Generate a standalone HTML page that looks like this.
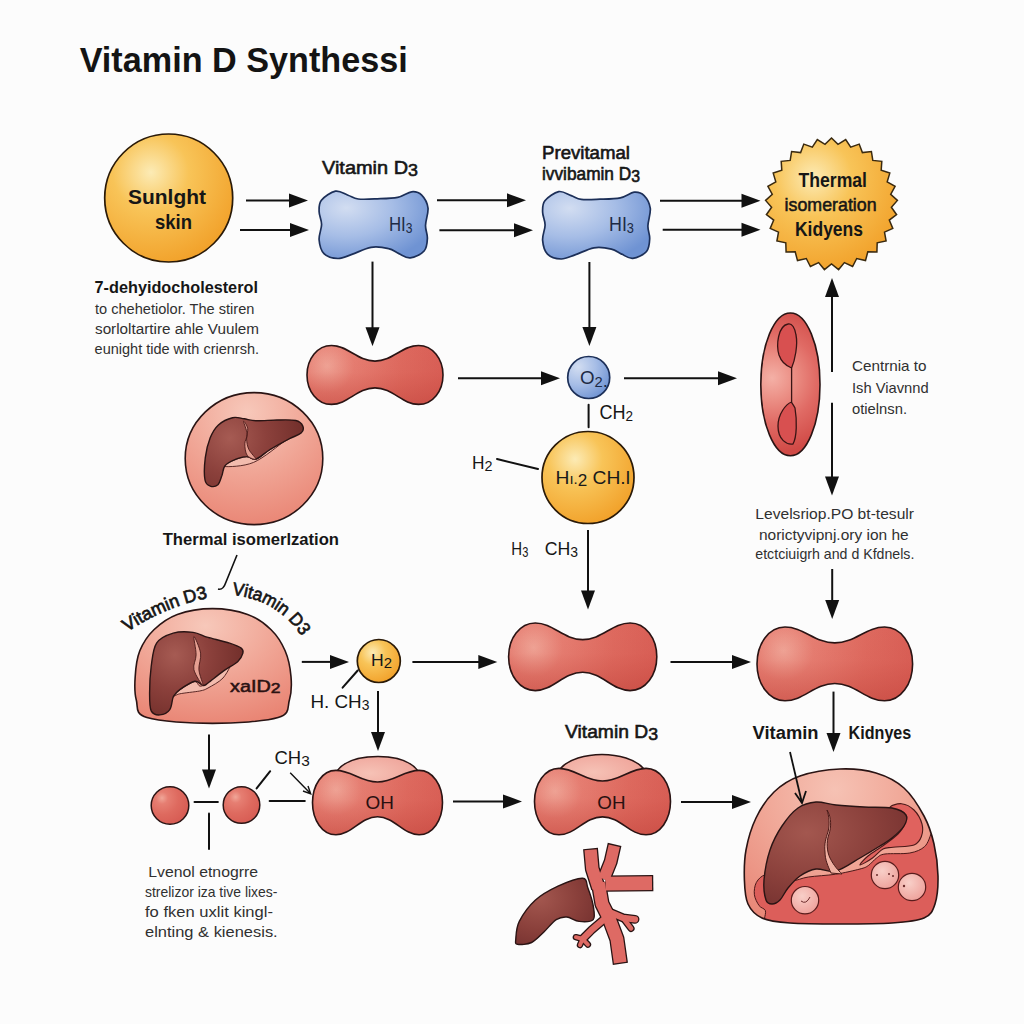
<!DOCTYPE html><html><head><meta charset="utf-8"><style>html,body{margin:0;padding:0;background:#fcfcfc;}svg{display:block;}text{font-family:"Liberation Sans",sans-serif;}</style></head><body>
<svg width="1024" height="1024" viewBox="0 0 1024 1024">
<defs>
<radialGradient id="gOr" cx="0.36" cy="0.30" r="0.78"><stop offset="0" stop-color="#fcebb5"/><stop offset="0.38" stop-color="#f8c458"/><stop offset="1" stop-color="#f19e26"/></radialGradient>
<radialGradient id="gBl" cx="0.25" cy="0.25" r="0.85"><stop offset="0" stop-color="#d2ddf1"/><stop offset="0.5" stop-color="#a6bde6"/><stop offset="1" stop-color="#6f93d3"/></radialGradient>
<radialGradient id="gRd" cx="0.2" cy="0.3" r="0.9"><stop offset="0" stop-color="#f2aca4"/><stop offset="0.35" stop-color="#e8807a"/><stop offset="1" stop-color="#d95a58"/></radialGradient>
<radialGradient id="gPk" cx="0.45" cy="0.15" r="0.95"><stop offset="0" stop-color="#f7c8ba"/><stop offset="0.5" stop-color="#f0a494"/><stop offset="1" stop-color="#e8806f"/></radialGradient>
<radialGradient id="gLv" cx="0.3" cy="0.3" r="0.8"><stop offset="0" stop-color="#a3574f"/><stop offset="0.6" stop-color="#8a403b"/><stop offset="1" stop-color="#763230"/></radialGradient>
<radialGradient id="gBack" cx="0.4" cy="0.5" r="0.7"><stop offset="0" stop-color="#f6c2b6"/><stop offset="1" stop-color="#eea096"/></radialGradient>
<radialGradient id="gSm" cx="0.4" cy="0.35" r="0.7"><stop offset="0" stop-color="#f8cfc8"/><stop offset="1" stop-color="#eea09a"/></radialGradient>
<linearGradient id="gVs" x1="0" y1="0" x2="1" y2="0"><stop offset="0" stop-color="#c94c4a"/><stop offset="0.5" stop-color="#e67a72"/><stop offset="1" stop-color="#c94c4a"/></linearGradient>
<linearGradient id="gShade" x1="0" y1="0" x2="0" y2="1"><stop offset="0" stop-color="#c03a30" stop-opacity="0"/><stop offset="0.45" stop-color="#c03a30" stop-opacity="0.05"/><stop offset="1" stop-color="#b83830" stop-opacity="0.38"/></linearGradient>
</defs>
<text x="79.7" y="71.9" font-size="35" font-weight="bold" fill="#141414" textLength="328" lengthAdjust="spacingAndGlyphs" >Vitamin D Synthessi</text>
<circle cx="168.7" cy="198" r="64" fill="url(#gOr)" stroke="#2a1a08" stroke-width="1.7"/>
<text x="128" y="203.6" font-size="21" font-weight="bold" fill="#161616" textLength="78" lengthAdjust="spacingAndGlyphs" >Sunlght</text>
<text x="155" y="228.6" font-size="21" font-weight="bold" fill="#161616" textLength="37" lengthAdjust="spacingAndGlyphs" >skin</text>
<line x1="246" y1="200.5" x2="291.0" y2="200.5" stroke="#111" stroke-width="2.0"/>
<polygon points="308,200.5 289.0,207.5 289.0,193.5" fill="#111"/>
<line x1="240" y1="230" x2="292.0" y2="230.0" stroke="#111" stroke-width="2.0"/>
<polygon points="309,230 290.0,237.0 290.0,223.0" fill="#111"/>
<path d="M335.4,191.2 C331.0,192.1 324.1,196.9 321.4,200.3 C318.7,203.7 319.1,207.5 319.1,211.5 C319.1,215.5 321.6,219.7 321.6,224.4 C321.6,229.1 318.7,234.8 319.1,239.7 C319.5,244.5 320.9,250.5 324.0,253.6 C327.2,256.8 333.3,258.4 337.9,258.5 C342.6,258.6 346.3,256.3 351.9,254.4 C357.4,252.6 364.9,248.3 371.0,247.3 C377.1,246.3 384.0,247.5 388.6,248.6 C393.3,249.6 395.3,252.1 398.9,253.6 C402.5,255.2 406.1,258.3 410.3,257.8 C414.5,257.4 421.3,254.3 424.1,251.0 C427.0,247.8 427.2,242.6 427.4,238.3 C427.6,234.1 425.5,230.5 425.5,225.4 C425.6,220.4 428.6,213.0 428.0,208.0 C427.3,203.0 424.4,197.9 421.7,195.2 C419.0,192.5 415.7,191.4 411.6,191.8 C407.6,192.2 403.4,196.2 397.6,197.4 C391.9,198.6 383.8,198.6 377.3,198.8 C370.7,199.1 363.1,199.6 358.2,199.0 C353.3,198.4 351.8,196.5 348.0,195.2 C344.2,193.9 339.9,190.3 335.4,191.2 Z" fill="url(#gBl)" stroke="#1c2f58" stroke-width="1.7"/>
<text x="322" y="174" font-size="19" font-weight="normal" fill="#161616" textLength="96" lengthAdjust="spacingAndGlyphs"  stroke="#161616" stroke-width="0.6">Vitamin D<tspan font-size="17" dy="2">3</tspan></text>
<text x="389" y="231" font-size="19.5" font-weight="normal" fill="#1d2a44" textLength="23.5" lengthAdjust="spacingAndGlyphs" >HI<tspan font-size="14" dy="2">3</tspan></text>
<line x1="437" y1="200.3" x2="509.0" y2="200.3" stroke="#111" stroke-width="2.0"/>
<polygon points="526,200.3 507.0,207.3 507.0,193.3" fill="#111"/>
<line x1="439.4" y1="230.3" x2="516.0" y2="230.3" stroke="#111" stroke-width="2.0"/>
<polygon points="533,230.3 514.0,237.3 514.0,223.3" fill="#111"/>
<path d="M558.7,191.6 C554.4,192.5 547.6,197.3 544.9,200.7 C542.2,204.1 542.6,207.9 542.6,212.0 C542.6,216.0 545.1,220.2 545.1,224.9 C545.1,229.6 542.2,235.3 542.6,240.1 C543.0,245.0 544.4,251.0 547.5,254.1 C550.6,257.3 556.7,258.9 561.2,259.0 C565.8,259.1 569.5,256.8 575.0,254.9 C580.4,253.1 587.9,248.8 593.9,247.8 C600.0,246.8 606.8,248.0 611.4,249.1 C616.0,250.1 618.0,252.6 621.6,254.1 C625.1,255.7 628.7,258.8 632.8,258.3 C637.0,257.9 643.7,254.8 646.5,251.5 C649.3,248.2 649.5,243.1 649.7,238.8 C650.0,234.5 647.8,230.9 647.9,225.9 C648.0,220.8 650.9,213.5 650.3,208.4 C649.6,203.4 646.8,198.3 644.1,195.6 C641.4,192.9 638.1,191.8 634.1,192.2 C630.2,192.6 625.9,196.7 620.3,197.8 C614.6,199.0 606.6,199.0 600.1,199.2 C593.6,199.5 586.1,200.1 581.3,199.4 C576.5,198.8 575.0,196.9 571.2,195.6 C567.4,194.3 563.1,190.7 558.7,191.6 Z" fill="url(#gBl)" stroke="#1c2f58" stroke-width="1.7"/>
<text x="542" y="158.6" font-size="17.5" font-weight="normal" fill="#161616" textLength="88" lengthAdjust="spacingAndGlyphs"  stroke="#161616" stroke-width="0.6">Previtamal</text>
<text x="542" y="180.4" font-size="17.5" font-weight="normal" fill="#161616" textLength="98" lengthAdjust="spacingAndGlyphs"  stroke="#161616" stroke-width="0.6">ivvibamin D<tspan font-size="16" dy="2">3</tspan></text>
<text x="609" y="231" font-size="19.5" font-weight="normal" fill="#1d2a44" textLength="25" lengthAdjust="spacingAndGlyphs" >HI<tspan font-size="14" dy="2">3</tspan></text>
<line x1="660" y1="200.8" x2="743.5" y2="200.8" stroke="#111" stroke-width="2.0"/>
<polygon points="760.5,200.8 741.5,207.8 741.5,193.8" fill="#111"/>
<line x1="662.7" y1="229.7" x2="743.5" y2="229.7" stroke="#111" stroke-width="2.0"/>
<polygon points="760.5,229.7 741.5,236.7 741.5,222.7" fill="#111"/>
<polygon points="831.5,138.0 838.0,144.4 845.7,139.5 850.7,147.1 859.2,144.1 862.4,152.6 871.4,151.5 872.8,160.4 881.8,161.3 881.2,170.3 889.8,173.1 887.2,181.8 895.1,186.3 890.7,194.3 897.4,200.4 891.4,207.2 896.6,214.7 889.3,220.1 892.8,228.4 884.5,232.1 886.1,241.0 877.2,242.8 876.9,251.9 867.8,251.8 865.5,260.6 856.7,258.5 852.6,266.5 844.4,262.6 838.6,269.6 831.5,264.0 824.4,269.6 818.6,262.6 810.4,266.5 806.3,258.5 797.5,260.6 795.2,251.8 786.1,251.9 785.8,242.8 776.9,241.0 778.5,232.1 770.2,228.4 773.7,220.1 766.4,214.7 771.6,207.2 765.6,200.4 772.3,194.3 767.9,186.3 775.8,181.8 773.2,173.1 781.8,170.3 781.2,161.3 790.2,160.4 791.6,151.5 800.6,152.6 803.8,144.1 812.3,147.1 817.3,139.5 825.0,144.4" fill="url(#gOr)" stroke="#3a2a10" stroke-width="1.5" stroke-linejoin="miter"/>
<text x="798.5" y="187" font-size="20" font-weight="bold" fill="#161616" textLength="68.5" lengthAdjust="spacingAndGlyphs" >Thermal</text>
<text x="784.6" y="211" font-size="19" font-weight="normal" fill="#161616" textLength="92" lengthAdjust="spacingAndGlyphs"  stroke="#161616" stroke-width="0.55">isomeration</text>
<text x="795" y="235.5" font-size="20" font-weight="bold" fill="#161616" textLength="68" lengthAdjust="spacingAndGlyphs" >Kidyens</text>
<text x="94.6" y="292.6" font-size="17" font-weight="bold" fill="#161616" textLength="163.3" lengthAdjust="spacingAndGlyphs" >7-dehyidocholesterol</text>
<text x="95" y="314" font-size="15.5" font-weight="normal" fill="#303030" textLength="159.4" lengthAdjust="spacingAndGlyphs" >to chehetiolor. The stiren</text>
<text x="95" y="334.4" font-size="15.5" font-weight="normal" fill="#303030" textLength="164" lengthAdjust="spacingAndGlyphs" >sorloltartire ahle Vuulem</text>
<text x="94.6" y="354.2" font-size="15.5" font-weight="normal" fill="#303030" textLength="164.4" lengthAdjust="spacingAndGlyphs" >eunight tide with crienrsh.</text>
<line x1="372.5" y1="261.6" x2="372.5" y2="329.3" stroke="#111" stroke-width="2.0"/>
<polygon points="372.5,346.3 365.5,327.3 379.5,327.3" fill="#111"/>
<radialGradient id="r1" gradientUnits="userSpaceOnUse" cx="327" cy="366" r="135" fx="327" fy="366"><stop offset="0" stop-color="#f0a698"/><stop offset="0.2" stop-color="#e67e72"/><stop offset="0.55" stop-color="#de6a5f"/><stop offset="1" stop-color="#d65a52"/></radialGradient>
<path d="M375.0,361.1 C392.7,361.1 402.2,345.5 418.5,345.5 C432.8,345.5 443.0,359.0 443.0,374.9 C443.0,390.9 432.8,404.4 418.5,404.4 C402.2,404.4 392.7,387.9 375.0,387.9 C357.3,387.9 347.8,404.4 331.5,404.4 C317.2,404.4 307.0,390.9 307.0,374.9 C307.0,359.0 317.2,345.5 331.5,345.5 C347.8,345.5 357.3,361.1 375.0,361.1 Z" fill="url(#r1)"/>
<path d="M375.0,361.1 C392.7,361.1 402.2,345.5 418.5,345.5 C432.8,345.5 443.0,359.0 443.0,374.9 C443.0,390.9 432.8,404.4 418.5,404.4 C402.2,404.4 392.7,387.9 375.0,387.9 C357.3,387.9 347.8,404.4 331.5,404.4 C317.2,404.4 307.0,390.9 307.0,374.9 C307.0,359.0 317.2,345.5 331.5,345.5 C347.8,345.5 357.3,361.1 375.0,361.1 Z" fill="url(#gShade)" stroke="#2a1414" stroke-width="1.6"/>
<line x1="458" y1="378.3" x2="543.0" y2="378.3" stroke="#111" stroke-width="2.0"/>
<polygon points="560,378.3 541.0,385.3 541.0,371.3" fill="#111"/>
<circle cx="588.7" cy="377.5" r="21" fill="url(#gBl)" stroke="#1c2f58" stroke-width="1.7"/>
<text x="580" y="384" font-size="19" font-weight="normal" fill="#1d2a44" textLength="28" lengthAdjust="spacingAndGlyphs" >O<tspan font-size="15" dy="3">2</tspan>.</text>
<line x1="589.4" y1="262" x2="589.4" y2="329.0" stroke="#111" stroke-width="2.0"/>
<polygon points="589.4,346 582.4,327.0 596.4,327.0" fill="#111"/>
<line x1="624" y1="378.3" x2="720.0" y2="378.3" stroke="#111" stroke-width="2.0"/>
<polygon points="737,378.3 718.0,385.3 718.0,371.3" fill="#111"/>
<line x1="588.6" y1="404.7" x2="588.6" y2="427.3" stroke="#111" stroke-width="2" stroke-linecap="round"/>
<text x="599.4" y="419.4" font-size="20" font-weight="normal" fill="#161616" textLength="33.6" lengthAdjust="spacingAndGlyphs" >CH<tspan font-size="15" dy="2">2</tspan></text>
<radialGradient id="r8" gradientUnits="userSpaceOnUse" cx="772" cy="378" r="75" fx="772" fy="378"><stop offset="0" stop-color="#f4b0a6"/><stop offset="0.3" stop-color="#eb8e84"/><stop offset="0.6" stop-color="#e06a64"/><stop offset="1" stop-color="#d04a46"/></radialGradient>
<ellipse cx="790.4" cy="384.4" rx="29.6" ry="71.4" fill="url(#r8)" stroke="#2a1414" stroke-width="1.6"/>
<path d="M788,324 C778,326 776,345 779,355 C782,364 789,367 791.6,368 L791.6,402 C786,404 778,414 778,426 C778,440 787,445 793,444 C797,437 797,420 795,408 C793,404 791.6,403 791.6,402 L791.6,368 C795,360 798,345 796,335 C795,328 792,323 788,324 Z" fill="#d85050" stroke="#3a1414" stroke-width="1.3"/>
<line x1="832" y1="372" x2="832.0" y2="295.0" stroke="#111" stroke-width="2.0"/>
<polygon points="832,278 839.0,297.0 825.0,297.0" fill="#111"/>
<line x1="832" y1="402.8" x2="832.0" y2="478.5" stroke="#111" stroke-width="2.0"/>
<polygon points="832,495.5 825.0,476.5 839.0,476.5" fill="#111"/>
<text x="852" y="371" font-size="15" font-weight="normal" fill="#303030" textLength="74.5" lengthAdjust="spacingAndGlyphs" >Centrnia to</text>
<text x="852" y="392.9" font-size="15" font-weight="normal" fill="#303030" textLength="76.6" lengthAdjust="spacingAndGlyphs" >Ish Viavnnd</text>
<text x="852" y="413.5" font-size="15" font-weight="normal" fill="#303030" textLength="55" lengthAdjust="spacingAndGlyphs" >otielnsn.</text>
<ellipse cx="254" cy="458.6" rx="68.8" ry="66" fill="url(#gPk)" stroke="#2a1414" stroke-width="1.6"/>
<path d="M224.3,466.5 C221.0,466.2 230.0,461.9 233.7,460.3 C237.4,458.7 242.9,457.0 246.6,456.8 C250.3,456.6 252.0,460.5 255.9,459.4 C259.8,458.2 264.5,453.1 270.0,449.8 C275.5,446.4 286.2,440.7 288.8,439.2 C291.3,437.7 291.1,436.9 285.2,440.7 C279.4,444.6 263.8,458.1 253.6,462.4 C243.4,466.7 227.6,466.9 224.3,466.5 Z" fill="#f3bcae" stroke="#4a1a18" stroke-width="0.9"/>
<radialGradient id="lv1" gradientUnits="userSpaceOnUse" cx="230" cy="438" r="80" fx="230" fy="438"><stop offset="0" stop-color="#a65b53"/><stop offset="0.45" stop-color="#8c413c"/><stop offset="1" stop-color="#6e2c28"/></radialGradient>
<path d="M218.4,424.9 C222.1,421.6 228.2,418.7 232.5,417.7 C236.8,416.6 240.3,418.3 244.2,418.8 C248.1,419.4 250.5,420.6 255.9,420.8 C261.4,421.0 270.4,420.1 277.0,420.0 C283.7,419.9 291.5,419.5 295.8,420.5 C300.1,421.5 301.9,424.0 302.8,426.1 C303.7,428.2 303.4,431.0 301.1,433.1 C298.7,435.3 293.9,436.3 288.8,439.0 C283.6,441.7 275.5,446.2 270.0,449.5 C264.5,452.9 259.8,458.0 255.9,459.1 C252.0,460.3 250.3,456.4 246.6,456.6 C242.9,456.7 237.3,458.5 233.7,460.1 C230.1,461.6 226.8,463.4 224.9,465.9 C222.9,468.5 223.1,472.2 222.0,475.3 C220.8,478.4 219.8,482.9 217.9,484.7 C215.9,486.5 212.4,486.9 210.2,486.1 C208.1,485.3 205.8,484.7 205.0,480.0 C204.1,475.3 204.4,464.8 205.3,457.7 C206.2,450.7 208.0,443.3 210.2,437.8 C212.4,432.3 214.7,428.3 218.4,424.9 Z" fill="url(#lv1)" stroke="#2a1414" stroke-width="1.4"/>
<path d="M243.6,421.4 C243.5,422.4 247.0,430.6 247.2,434.3 C247.3,438.0 244.8,440.2 244.8,443.7 C244.8,447.2 245.3,452.8 247.2,455.4 C249.0,458.0 255.6,460.1 255.9,459.1 C256.2,458.2 250.5,452.9 248.9,449.5 C247.3,446.2 246.8,442.5 246.6,439.0 C246.4,435.5 248.2,431.4 247.7,428.4 C247.2,425.5 243.7,420.4 243.6,421.4 Z" fill="#e6a092" stroke="#4a1a18" stroke-width="0.9"/>
<text x="162.7" y="545" font-size="17" font-weight="bold" fill="#161616" textLength="176.3" lengthAdjust="spacingAndGlyphs" >Thermal isomerlzation</text>
<circle cx="588" cy="477.5" r="46" fill="url(#gOr)" stroke="#2a1a08" stroke-width="1.7"/>
<text x="555.5" y="483.8" font-size="18" font-weight="normal" fill="#1a1a1a" textLength="74.5" lengthAdjust="spacingAndGlyphs" >H<tspan font-size="14" dy="0">ı.</tspan><tspan font-size="16" dy="2">2</tspan><tspan dy="-2"> CH.l</tspan></text>
<line x1="497" y1="459" x2="538" y2="469" stroke="#111" stroke-width="2" stroke-linecap="round"/>
<text x="472" y="469" font-size="18" font-weight="normal" fill="#161616" textLength="20.5" lengthAdjust="spacingAndGlyphs" >H<tspan font-size="15" dy="2">2</tspan></text>
<text x="511.3" y="554.7" font-size="19" font-weight="normal" fill="#161616" textLength="17" lengthAdjust="spacingAndGlyphs" >H<tspan font-size="14" dy="2">3</tspan></text>
<text x="544.7" y="554.7" font-size="19" font-weight="normal" fill="#161616" textLength="33.3" lengthAdjust="spacingAndGlyphs" >CH<tspan font-size="15" dy="2">3</tspan></text>
<line x1="588" y1="530" x2="588.0" y2="592.4" stroke="#111" stroke-width="2.0"/>
<polygon points="588,609.4 581.0,590.4 595.0,590.4" fill="#111"/>
<text x="755.3" y="518.5" font-size="15" font-weight="normal" fill="#303030" textLength="158.7" lengthAdjust="spacingAndGlyphs" >Levelsriop.PO bt-tesulr</text>
<text x="759" y="539.5" font-size="15" font-weight="normal" fill="#303030" textLength="149.6" lengthAdjust="spacingAndGlyphs" >norictyvipnj.ory ion he</text>
<text x="755.3" y="559" font-size="15" font-weight="normal" fill="#303030" textLength="159.1" lengthAdjust="spacingAndGlyphs" >etctciuigrh and d Kfdnels.</text>
<line x1="832.2" y1="569" x2="832.2" y2="602.0" stroke="#111" stroke-width="2.0"/>
<polygon points="832.2,619 825.2,600.0 839.2,600.0" fill="#111"/>
<path d="M212.5,608.6 C200.8,608.6 187.1,610.9 177.3,614.4 C167.6,618.0 160.2,623.6 153.9,629.7 C147.7,635.7 143.0,643.0 139.8,650.8 C136.7,658.6 135.7,668.4 135.2,676.6 C134.6,684.8 134.4,693.2 136.3,700.0 C138.3,706.8 134.2,713.7 146.9,717.6 C159.6,721.5 190.6,723.4 212.5,723.4 C234.4,723.4 265.3,721.5 278.1,717.6 C290.9,713.7 287.2,706.8 289.4,700.0 C291.5,693.2 291.7,684.8 291.0,676.6 C290.3,668.4 288.5,658.6 285.1,650.8 C281.8,643.0 277.3,635.7 271.1,629.7 C264.8,623.6 257.4,618.0 247.6,614.4 C237.9,610.9 224.2,608.6 212.5,608.6 Z" fill="url(#gPk)" stroke="#2a1414" stroke-width="1.6"/>
<path d="M173.5,696.6 C173.5,696.0 176.3,692.5 179.8,690.0 C183.3,687.5 190.9,682.4 194.7,681.7 C198.6,680.9 197.2,688.5 203.0,685.5 C208.9,682.5 226.3,665.2 229.6,663.9 C232.9,662.7 226.6,674.0 223.0,678.0 C219.4,682.0 211.9,685.8 208.0,688.0 C204.1,690.1 204.4,690.0 199.7,691.0 C195.0,691.9 184.2,692.9 179.8,693.8 C175.4,694.7 173.5,697.2 173.5,696.6 Z" fill="#f3bcae" stroke="#4a1a18" stroke-width="0.9"/>
<radialGradient id="lv2" gradientUnits="userSpaceOnUse" cx="175" cy="655" r="75" fx="175" fy="655"><stop offset="0" stop-color="#a65b53"/><stop offset="0.45" stop-color="#8c413c"/><stop offset="1" stop-color="#6e2c28"/></radialGradient>
<path d="M156.6,643.2 C160.2,637.6 167.1,635.0 173.2,633.2 C179.2,631.4 187.3,631.7 193.1,632.4 C198.9,633.1 201.9,635.6 208.0,637.4 C214.1,639.1 224.1,641.4 229.6,643.2 C235.1,645.0 239.0,646.5 241.2,648.1 C243.4,649.8 243.4,650.9 242.9,653.1 C242.3,655.3 241.2,658.4 237.9,661.4 C234.6,664.5 227.9,667.8 223.0,671.4 C218.0,675.0 211.3,680.6 208.0,683.0 C204.7,685.4 205.3,685.8 203.0,685.5 C200.8,685.2 198.6,680.6 194.7,681.3 C190.9,682.0 183.3,687.2 179.8,689.6 C176.3,692.1 175.2,693.0 173.5,696.3 C171.8,699.6 172.1,706.5 169.8,709.6 C167.6,712.7 163.0,714.7 159.9,714.9 C156.8,715.1 153.0,714.5 151.2,710.9 C149.5,707.2 149.6,700.4 149.6,693.0 C149.6,685.5 150.1,674.7 151.2,666.4 C152.4,658.1 152.9,648.7 156.6,643.2 Z" fill="url(#lv2)" stroke="#2a1414" stroke-width="1.4"/>
<path d="M193.9,636.5 C193.2,636.8 196.1,649.2 196.1,654.8 C196.1,660.3 192.7,664.6 193.9,669.7 C195.1,674.8 202.2,685.5 203.0,685.5 C203.9,685.5 199.3,675.1 198.9,669.7 C198.5,664.3 201.4,658.7 200.6,653.1 C199.7,647.6 194.7,636.2 193.9,636.5 Z" fill="#e6a092" stroke="#4a1a18" stroke-width="0.9"/>
<text x="230" y="691.8" font-size="17" font-weight="normal" fill="#2a1212" textLength="50.5" lengthAdjust="spacingAndGlyphs"  stroke="#2a1212" stroke-width="0.55">xaID<tspan font-size="15" dy="1">2</tspan></text>
<path id="arcL" d="M127,632 Q170,604 214,597" fill="none"/>
<text font-size="18" fill="#161616" stroke="#161616" stroke-width="0.7"><textPath href="#arcL" textLength="88" lengthAdjust="spacingAndGlyphs">Vitamin D3</textPath></text>
<path id="arcR" d="M232,595 Q284,600 309,649" fill="none"/>
<text font-size="18" fill="#161616" stroke="#161616" stroke-width="0.7"><textPath href="#arcR" textLength="84" lengthAdjust="spacingAndGlyphs">Vitamin D3</textPath></text>
<path d="M218,589 C222,590 224,588 226,582 L237,555" fill="none" stroke="#111" stroke-width="1.6"/>
<line x1="301.8" y1="661.9" x2="332.0" y2="661.9" stroke="#111" stroke-width="2.0"/>
<polygon points="349,661.9 330.0,668.9 330.0,654.9" fill="#111"/>
<circle cx="378.8" cy="661" r="21.5" fill="url(#gOr)" stroke="#2a1a08" stroke-width="1.7"/>
<text x="371" y="666.2" font-size="16.5" font-weight="normal" fill="#161616" textLength="21" lengthAdjust="spacingAndGlyphs" >H<tspan font-size="14" dy="2">2</tspan></text>
<line x1="357.7" y1="670.5" x2="342.6" y2="687.7" stroke="#111" stroke-width="2" stroke-linecap="round"/>
<text x="310.4" y="708" font-size="19" font-weight="normal" fill="#161616" textLength="59" lengthAdjust="spacingAndGlyphs" >H. CH<tspan font-size="14" dy="2">3</tspan></text>
<line x1="412.4" y1="661.9" x2="480.3" y2="661.9" stroke="#111" stroke-width="2.0"/>
<polygon points="497.3,661.9 478.3,668.9 478.3,654.9" fill="#111"/>
<line x1="378" y1="690.9" x2="378.0" y2="734.0" stroke="#111" stroke-width="2.0"/>
<polygon points="378,751 371.0,732.0 385.0,732.0" fill="#111"/>
<radialGradient id="r2" gradientUnits="userSpaceOnUse" cx="533.7" cy="647.7" r="145" fx="533.7" fy="647.7"><stop offset="0" stop-color="#f0a698"/><stop offset="0.2" stop-color="#e67e72"/><stop offset="0.55" stop-color="#de6a5f"/><stop offset="1" stop-color="#d65a52"/></radialGradient>
<path d="M582.7,639.6 C602.0,639.6 612.3,623.0 630.1,623.0 C645.7,623.0 656.8,638.5 656.8,656.8 C656.8,675.1 645.7,690.6 630.1,690.6 C612.3,690.6 602.0,672.3 582.7,672.3 C563.4,672.3 553.1,690.6 535.3,690.6 C519.7,690.6 508.6,675.1 508.6,656.8 C508.6,638.5 519.7,623.0 535.3,623.0 C553.1,623.0 563.4,639.6 582.7,639.6 Z" fill="url(#r2)"/>
<path d="M582.7,639.6 C602.0,639.6 612.3,623.0 630.1,623.0 C645.7,623.0 656.8,638.5 656.8,656.8 C656.8,675.1 645.7,690.6 630.1,690.6 C612.3,690.6 602.0,672.3 582.7,672.3 C563.4,672.3 553.1,690.6 535.3,690.6 C519.7,690.6 508.6,675.1 508.6,656.8 C508.6,638.5 519.7,623.0 535.3,623.0 C553.1,623.0 563.4,639.6 582.7,639.6 Z" fill="url(#gShade)" stroke="#2a1414" stroke-width="1.6"/>
<line x1="670.5" y1="661.9" x2="734.0" y2="661.9" stroke="#111" stroke-width="2.0"/>
<polygon points="751,661.9 732.0,668.9 732.0,654.9" fill="#111"/>
<radialGradient id="r3" gradientUnits="userSpaceOnUse" cx="783.5" cy="650.7" r="150" fx="783.5" fy="650.7"><stop offset="0" stop-color="#f0a698"/><stop offset="0.2" stop-color="#e67e72"/><stop offset="0.55" stop-color="#de6a5f"/><stop offset="1" stop-color="#d65a52"/></radialGradient>
<path d="M834.8,642.9 C855.0,642.9 865.9,627.0 884.6,627.0 C900.9,627.0 912.6,644.0 912.6,663.9 C912.6,683.8 900.9,700.8 884.6,700.8 C865.9,700.8 855.0,683.5 834.8,683.5 C814.6,683.5 803.7,700.8 785.0,700.8 C768.7,700.8 757.0,683.8 757.0,663.9 C757.0,644.0 768.7,627.0 785.0,627.0 C803.7,627.0 814.6,642.9 834.8,642.9 Z" fill="url(#r3)"/>
<path d="M834.8,642.9 C855.0,642.9 865.9,627.0 884.6,627.0 C900.9,627.0 912.6,644.0 912.6,663.9 C912.6,683.8 900.9,700.8 884.6,700.8 C865.9,700.8 855.0,683.5 834.8,683.5 C814.6,683.5 803.7,700.8 785.0,700.8 C768.7,700.8 757.0,683.8 757.0,663.9 C757.0,644.0 768.7,627.0 785.0,627.0 C803.7,627.0 814.6,642.9 834.8,642.9 Z" fill="url(#gShade)" stroke="#2a1414" stroke-width="1.6"/>
<line x1="833.5" y1="691.6" x2="833.5" y2="735.0" stroke="#111" stroke-width="2.0"/>
<polygon points="833.5,752 826.5,733.0 840.5,733.0" fill="#111"/>
<text x="752.6" y="739" font-size="17.5" font-weight="bold" fill="#161616" textLength="65.9" lengthAdjust="spacingAndGlyphs" >Vitamin</text>
<text x="848.6" y="739" font-size="17.5" font-weight="bold" fill="#161616" textLength="62.7" lengthAdjust="spacingAndGlyphs" >Kidnyes</text>
<line x1="209" y1="734.6" x2="209.0" y2="771.4" stroke="#111" stroke-width="2.0"/>
<polygon points="209,788.4 202.0,769.4 216.0,769.4" fill="#111"/>
<radialGradient id="r6" gradientUnits="userSpaceOnUse" cx="162" cy="798" r="30" fx="162" fy="798"><stop offset="0" stop-color="#f0a698"/><stop offset="0.2" stop-color="#e67e72"/><stop offset="0.55" stop-color="#de6a5f"/><stop offset="1" stop-color="#d65a52"/></radialGradient>
<circle cx="170" cy="805.5" r="18.8" fill="url(#r6)" stroke="#2a1414" stroke-width="1.5"/>
<radialGradient id="r7" gradientUnits="userSpaceOnUse" cx="235.5" cy="797" r="30" fx="235.5" fy="797"><stop offset="0" stop-color="#f0a698"/><stop offset="0.2" stop-color="#e67e72"/><stop offset="0.55" stop-color="#de6a5f"/><stop offset="1" stop-color="#d65a52"/></radialGradient>
<circle cx="241.5" cy="805" r="18.3" fill="url(#r7)" stroke="#2a1414" stroke-width="1.5"/>
<line x1="194.5" y1="802" x2="217.9" y2="802" stroke="#111" stroke-width="2" stroke-linecap="round"/>
<line x1="209" y1="813.4" x2="209" y2="849" stroke="#111" stroke-width="2" stroke-linecap="round"/>
<line x1="256.6" y1="788.4" x2="270.2" y2="771.2" stroke="#111" stroke-width="2" stroke-linecap="round"/>
<line x1="269.6" y1="801" x2="304.8" y2="801" stroke="#111" stroke-width="2" stroke-linecap="round"/>
<path d="M290.2,772.7 L310.7,793.8 M303,791 L310.7,793.8 L308,786" fill="none" stroke="#111" stroke-width="1.4"/>
<text x="274.5" y="764" font-size="18" font-weight="normal" fill="#161616" textLength="35.2" lengthAdjust="spacingAndGlyphs" >CH<tspan font-size="15" dy="2">3</tspan></text>
<path d="M337,771 C345,760 362,756.4 378,756.4 C394,756.4 410,760 418,771 L380,790 Z" fill="url(#gBack)" stroke="#2a1414" stroke-width="1.5"/>
<radialGradient id="r4" gradientUnits="userSpaceOnUse" cx="336" cy="789.7" r="130" fx="336" fy="789.7"><stop offset="0" stop-color="#f0a698"/><stop offset="0.2" stop-color="#e67e72"/><stop offset="0.55" stop-color="#de6a5f"/><stop offset="1" stop-color="#d65a52"/></radialGradient>
<path d="M377.5,782.0 C394.4,782.0 403.5,770.4 419.1,770.4 C432.8,770.4 442.5,785.2 442.5,802.6 C442.5,820.0 432.8,834.8 419.1,834.8 C403.5,834.8 394.4,816.8 377.5,816.8 C360.6,816.8 351.5,834.8 335.9,834.8 C322.2,834.8 312.5,820.0 312.5,802.6 C312.5,785.2 322.2,770.4 335.9,770.4 C351.5,770.4 360.6,782.0 377.5,782.0 Z" fill="url(#r4)"/>
<path d="M377.5,782.0 C394.4,782.0 403.5,770.4 419.1,770.4 C432.8,770.4 442.5,785.2 442.5,802.6 C442.5,820.0 432.8,834.8 419.1,834.8 C403.5,834.8 394.4,816.8 377.5,816.8 C360.6,816.8 351.5,834.8 335.9,834.8 C322.2,834.8 312.5,820.0 312.5,802.6 C312.5,785.2 322.2,770.4 335.9,770.4 C351.5,770.4 360.6,782.0 377.5,782.0 Z" fill="url(#gShade)" stroke="#2a1414" stroke-width="1.6"/>
<text x="365.6" y="809" font-size="19" font-weight="normal" fill="#2a1010" textLength="28.4" lengthAdjust="spacingAndGlyphs" >OH</text>
<line x1="453" y1="801.5" x2="505.0" y2="801.5" stroke="#111" stroke-width="2.0"/>
<polygon points="522,801.5 503.0,808.5 503.0,794.5" fill="#111"/>
<path d="M560,769 C568,759 586,754.4 602,754.4 C618,754.4 636,759 644,769 L602,790 Z" fill="url(#gBack)" stroke="#2a1414" stroke-width="1.5"/>
<radialGradient id="r5" gradientUnits="userSpaceOnUse" cx="555" cy="791.4" r="135" fx="555" fy="791.4"><stop offset="0" stop-color="#f0a698"/><stop offset="0.2" stop-color="#e67e72"/><stop offset="0.55" stop-color="#de6a5f"/><stop offset="1" stop-color="#d65a52"/></radialGradient>
<path d="M602.5,781.0 C620.2,781.0 629.7,768.4 646.0,768.4 C660.3,768.4 670.5,783.7 670.5,801.6 C670.5,819.5 660.3,834.8 646.0,834.8 C629.7,834.8 620.2,816.9 602.5,816.9 C584.8,816.9 575.3,834.8 559.0,834.8 C544.7,834.8 534.5,819.5 534.5,801.6 C534.5,783.7 544.7,768.4 559.0,768.4 C575.3,768.4 584.8,781.0 602.5,781.0 Z" fill="url(#r5)"/>
<path d="M602.5,781.0 C620.2,781.0 629.7,768.4 646.0,768.4 C660.3,768.4 670.5,783.7 670.5,801.6 C670.5,819.5 660.3,834.8 646.0,834.8 C629.7,834.8 620.2,816.9 602.5,816.9 C584.8,816.9 575.3,834.8 559.0,834.8 C544.7,834.8 534.5,819.5 534.5,801.6 C534.5,783.7 544.7,768.4 559.0,768.4 C575.3,768.4 584.8,781.0 602.5,781.0 Z" fill="url(#gShade)" stroke="#2a1414" stroke-width="1.6"/>
<text x="597.3" y="809" font-size="19" font-weight="normal" fill="#2a1010" textLength="28.2" lengthAdjust="spacingAndGlyphs" >OH</text>
<text x="565" y="737.5" font-size="18.5" font-weight="normal" fill="#161616" textLength="93" lengthAdjust="spacingAndGlyphs"  stroke="#161616" stroke-width="0.6">Vitamin D<tspan font-size="17" dy="2">3</tspan></text>
<line x1="681" y1="802" x2="734.0" y2="802.0" stroke="#111" stroke-width="2.0"/>
<polygon points="751,802 732.0,809.0 732.0,795.0" fill="#111"/>
<clipPath id="cpD2"><path d="M840.0,769.0 C827.3,769.5 811.0,772.2 800.0,776.0 C789.0,779.8 781.3,785.0 774.0,792.0 C766.7,799.0 760.7,808.3 756.0,818.0 C751.3,827.7 747.9,839.7 746.0,850.0 C744.1,860.3 744.1,871.0 744.4,880.0 C744.7,889.0 745.1,897.7 748.0,904.0 C750.9,910.3 755.0,914.8 762.0,918.0 C769.0,921.2 777.0,922.0 790.0,923.0 C803.0,924.0 823.0,924.0 840.0,924.0 C857.0,924.0 878.0,924.0 892.0,923.0 C906.0,922.0 916.8,921.2 924.0,918.0 C931.2,914.8 932.7,911.0 935.0,904.0 C937.3,897.0 938.2,886.0 938.0,876.0 C937.8,866.0 936.3,854.0 934.0,844.0 C931.7,834.0 929.0,825.3 924.0,816.0 C919.0,806.7 912.0,795.2 904.0,788.0 C896.0,780.8 886.7,776.2 876.0,773.0 C865.3,769.8 852.7,768.5 840.0,769.0 Z"/></clipPath>
<radialGradient id="pk2" gradientUnits="userSpaceOnUse" cx="835" cy="790" r="150" fx="835" fy="790"><stop offset="0" stop-color="#f6c2b4"/><stop offset="0.5" stop-color="#f0a696"/><stop offset="1" stop-color="#e88676"/></radialGradient>
<path d="M840.0,769.0 C827.3,769.5 811.0,772.2 800.0,776.0 C789.0,779.8 781.3,785.0 774.0,792.0 C766.7,799.0 760.7,808.3 756.0,818.0 C751.3,827.7 747.9,839.7 746.0,850.0 C744.1,860.3 744.1,871.0 744.4,880.0 C744.7,889.0 745.1,897.7 748.0,904.0 C750.9,910.3 755.0,914.8 762.0,918.0 C769.0,921.2 777.0,922.0 790.0,923.0 C803.0,924.0 823.0,924.0 840.0,924.0 C857.0,924.0 878.0,924.0 892.0,923.0 C906.0,922.0 916.8,921.2 924.0,918.0 C931.2,914.8 932.7,911.0 935.0,904.0 C937.3,897.0 938.2,886.0 938.0,876.0 C937.8,866.0 936.3,854.0 934.0,844.0 C931.7,834.0 929.0,825.3 924.0,816.0 C919.0,806.7 912.0,795.2 904.0,788.0 C896.0,780.8 886.7,776.2 876.0,773.0 C865.3,769.8 852.7,768.5 840.0,769.0 Z" fill="url(#pk2)"/>
<path d="M931,834 C930.0,836.1 928.2,843.3 924.7,846.5 C921.2,849.7 916.4,851.8 909.8,853.0 C903.2,854.2 890.5,853.2 885.0,854.0 C879.5,854.8 879.4,856.1 876.6,858.0 C873.8,859.9 871.1,863.8 868.3,865.6 C865.5,867.4 865.4,867.6 860.0,869.0 C854.6,870.4 844.3,872.9 835.7,874.2 C827.1,875.5 815.7,875.9 808.4,877.0 C801.1,878.1 797.1,880.7 792.0,881.0 C786.9,881.3 782.5,880.0 778.0,879.0 C773.5,878.0 768.9,874.3 765.3,874.9 C761.7,875.5 758.2,879.1 756.4,882.4 C754.6,885.7 753.9,890.8 754.4,894.7 C754.9,898.6 757.3,903.0 759.1,905.6 C760.9,908.2 764.4,908.3 765.3,910.4 C766.2,912.5 764.7,916.7 764.6,918.0  L760,940 L960,940 L960,834 Z" fill="#dc5e5a" stroke="#4a1818" stroke-width="1" clip-path="url(#cpD2)"/>
<path d="M890.0,807.5 C889.6,806.0 897.5,803.3 901.5,803.7 C905.5,804.1 910.6,806.6 914.0,810.0 C917.4,813.4 920.8,819.6 922.0,824.0 C923.2,828.4 922.7,833.0 921.4,836.5 C920.1,840.0 918.7,843.2 914.0,845.0 C909.3,846.8 898.2,846.6 893.0,847.3 C887.8,848.0 886.4,847.2 883.0,849.0 C879.6,850.8 876.3,855.3 872.5,858.0 C868.7,860.7 860.8,865.3 860.0,865.0 C859.2,864.7 864.0,859.3 868.0,856.0 C872.0,852.7 879.0,848.7 884.0,845.0 C889.0,841.3 894.5,837.7 898.0,834.0 C901.5,830.3 904.0,826.5 905.0,823.0 C906.0,819.5 906.5,815.6 904.0,813.0 C901.5,810.4 890.4,809.0 890.0,807.5 Z" fill="#e0625e" stroke="#4a1818" stroke-width="1.1"/>
<path d="M840.0,769.0 C827.3,769.5 811.0,772.2 800.0,776.0 C789.0,779.8 781.3,785.0 774.0,792.0 C766.7,799.0 760.7,808.3 756.0,818.0 C751.3,827.7 747.9,839.7 746.0,850.0 C744.1,860.3 744.1,871.0 744.4,880.0 C744.7,889.0 745.1,897.7 748.0,904.0 C750.9,910.3 755.0,914.8 762.0,918.0 C769.0,921.2 777.0,922.0 790.0,923.0 C803.0,924.0 823.0,924.0 840.0,924.0 C857.0,924.0 878.0,924.0 892.0,923.0 C906.0,922.0 916.8,921.2 924.0,918.0 C931.2,914.8 932.7,911.0 935.0,904.0 C937.3,897.0 938.2,886.0 938.0,876.0 C937.8,866.0 936.3,854.0 934.0,844.0 C931.7,834.0 929.0,825.3 924.0,816.0 C919.0,806.7 912.0,795.2 904.0,788.0 C896.0,780.8 886.7,776.2 876.0,773.0 C865.3,769.8 852.7,768.5 840.0,769.0 Z" fill="none" stroke="#2a1414" stroke-width="1.6"/>
<path d="M766.0,900.0 C764.7,896.0 763.3,888.3 764.0,880.0 C764.7,871.7 767.0,859.0 770.0,850.0 C773.0,841.0 777.3,833.0 782.0,826.0 C786.7,819.0 792.3,812.0 798.0,808.0 C803.7,804.0 809.7,802.5 816.0,802.0 C822.3,801.5 828.0,804.2 836.0,805.0 C844.0,805.8 854.7,806.5 864.0,807.0 C873.3,807.5 885.0,806.7 892.0,808.0 C899.0,809.3 904.0,812.0 906.0,815.0 C908.0,818.0 906.3,822.2 904.0,826.0 C901.7,829.8 896.0,834.7 892.0,838.0 C888.0,841.3 885.3,842.7 880.0,846.0 C874.7,849.3 867.3,853.8 860.0,858.0 C852.7,862.2 843.3,869.2 836.0,871.0 C828.7,872.8 822.0,868.2 816.0,869.0 C810.0,869.8 804.7,872.8 800.0,876.0 C795.3,879.2 791.3,884.0 788.0,888.0 C784.7,892.0 782.7,897.3 780.0,900.0 C777.3,902.7 774.3,904.0 772.0,904.0 C769.7,904.0 767.3,904.0 766.0,900.0 Z" fill="url(#gLv)" stroke="#2a1414" stroke-width="1.4"/>
<path d="M827,810 C832,818 831,828 829,834 C826,842 827,852 830,858 C834,866 838,870 842,874 L831,873 C828,866 825,860 825,852 C824,844 826,838 828,832 C830,824 829,816 827,810 Z" fill="#f0b0a2" stroke="#4a1a18" stroke-width="1"/>
<circle cx="805" cy="900.2" r="13.7" fill="url(#gSm)" stroke="#5a1c1c" stroke-width="1.2"/>
<circle cx="885" cy="875" r="13.7" fill="url(#gSm)" stroke="#5a1c1c" stroke-width="1.2"/>
<circle cx="912" cy="887" r="13.7" fill="url(#gSm)" stroke="#5a1c1c" stroke-width="1.2"/>
<path d="M801,901 Q806,905 810,897" stroke="#6a2a2a" stroke-width="1" fill="none"/>
<circle cx="877" cy="875" r="1" fill="#6a2a2a"/><circle cx="889" cy="874" r="1" fill="#6a2a2a"/><circle cx="893" cy="876" r="1" fill="#6a2a2a"/><circle cx="904" cy="886" r="1.2" fill="#6a2a2a"/>
<path d="M790,752 L802,803" stroke="#111" stroke-width="1.8" fill="none"/>
<path d="M795,793 L802,803 L806,791" stroke="#111" stroke-width="1.8" fill="none"/>
<path d="M515.8,939.0 C516.1,935.2 516.1,927.8 519.3,921.4 C522.6,915.0 528.7,906.2 535.2,900.3 C541.6,894.5 550.1,889.9 558.0,886.2 C565.9,882.6 577.6,878.0 582.6,878.3 C587.6,878.6 586.1,883.5 587.9,888.0 C589.6,892.5 592.3,900.3 593.2,905.6 C594.0,910.9 595.5,917.0 593.2,919.6 C590.8,922.3 583.5,921.8 579.1,921.4 C574.7,921.0 570.6,917.3 566.8,917.0 C563.0,916.7 560.1,917.2 556.2,919.6 C552.4,922.1 548.0,928.1 543.9,932.0 C539.8,935.8 536.0,940.4 531.6,942.5 C527.2,944.5 520.2,944.8 517.6,944.3 C514.9,943.7 515.5,942.8 515.8,939.0 Z" fill="url(#gLv)" stroke="#2a1414" stroke-width="1.4"/>
<path d="M590.5,848.5 L592.3,868.7 L598.4,888.0" fill="none" stroke="#2a1414" stroke-width="14.9" stroke-linejoin="round" stroke-linecap="butt"/>
<path d="M614.6,844.4 L610.7,861.6 L603.7,879.2" fill="none" stroke="#2a1414" stroke-width="14.0" stroke-linejoin="round" stroke-linecap="butt"/>
<path d="M605.5,883.6 L653.3,883.1" fill="none" stroke="#2a1414" stroke-width="16.3" stroke-linejoin="round" stroke-linecap="butt"/>
<path d="M598.4,882.7 L602.0,903.8 L609.0,917.9 L616.9,939.0 L620.4,963.9" fill="none" stroke="#2a1414" stroke-width="15.3" stroke-linejoin="round" stroke-linecap="butt"/>
<path d="M610.7,912.6 L623.0,917.9 L635.0,919.3" fill="none" stroke="#2a1414" stroke-width="8.9" stroke-linejoin="round" stroke-linecap="round"/>
<path d="M623.0,917.9 L631.0,928.4" fill="none" stroke="#2a1414" stroke-width="7.2" stroke-linejoin="round" stroke-linecap="round"/>
<path d="M603.7,919.6 L591.4,930.2 L582.6,939.0" fill="none" stroke="#2a1414" stroke-width="8.9" stroke-linejoin="round" stroke-linecap="round"/>
<path d="M582.6,939.0 L575.9,937.2" fill="none" stroke="#2a1414" stroke-width="6.5" stroke-linejoin="round" stroke-linecap="round"/>
<path d="M582.6,939.0 L580.0,945.1" fill="none" stroke="#2a1414" stroke-width="6.5" stroke-linejoin="round" stroke-linecap="round"/>
<path d="M582.6,939.0 L587.9,944.6" fill="none" stroke="#2a1414" stroke-width="6.5" stroke-linejoin="round" stroke-linecap="round"/>
<path d="M590.6,849.8 L592.3,868.7 L598.4,888.0" fill="none" stroke="#de6a64" stroke-width="12.3" stroke-linejoin="round" stroke-linecap="butt"/>
<path d="M614.3,845.7 L610.7,861.6 L603.7,879.2" fill="none" stroke="#de6a64" stroke-width="11.4" stroke-linejoin="round" stroke-linecap="butt"/>
<path d="M605.5,883.6 L652.0,883.1" fill="none" stroke="#de6a64" stroke-width="13.7" stroke-linejoin="round" stroke-linecap="butt"/>
<path d="M598.4,882.7 L602.0,903.8 L609.0,917.9 L616.9,939.0 L620.2,962.7" fill="none" stroke="#de6a64" stroke-width="12.7" stroke-linejoin="round" stroke-linecap="butt"/>
<path d="M610.7,912.6 L623.0,917.9 L635.0,919.3" fill="none" stroke="#de6a64" stroke-width="6.3" stroke-linejoin="round" stroke-linecap="round"/>
<path d="M623.0,917.9 L631.0,928.4" fill="none" stroke="#de6a64" stroke-width="4.6" stroke-linejoin="round" stroke-linecap="round"/>
<path d="M603.7,919.6 L591.4,930.2 L582.6,939.0" fill="none" stroke="#de6a64" stroke-width="6.3" stroke-linejoin="round" stroke-linecap="round"/>
<path d="M582.6,939.0 L575.9,937.2" fill="none" stroke="#de6a64" stroke-width="3.9" stroke-linejoin="round" stroke-linecap="round"/>
<path d="M582.6,939.0 L580.0,945.1" fill="none" stroke="#de6a64" stroke-width="3.9" stroke-linejoin="round" stroke-linecap="round"/>
<path d="M582.6,939.0 L587.9,944.6" fill="none" stroke="#de6a64" stroke-width="3.9" stroke-linejoin="round" stroke-linecap="round"/>
<text x="148.3" y="876.9" font-size="15" font-weight="normal" fill="#303030" textLength="109.7" lengthAdjust="spacingAndGlyphs" >Lvenol etnogrre</text>
<text x="145" y="897.3" font-size="15" font-weight="normal" fill="#303030" textLength="132.4" lengthAdjust="spacingAndGlyphs" >strelizor iza tive lixes-</text>
<text x="145" y="917.2" font-size="15" font-weight="normal" fill="#303030" textLength="128" lengthAdjust="spacingAndGlyphs" >fo fken uxlit kingl-</text>
<text x="145" y="937.2" font-size="15" font-weight="normal" fill="#303030" textLength="132.7" lengthAdjust="spacingAndGlyphs" >elnting &amp; kienesis.</text>
</svg></body></html>
